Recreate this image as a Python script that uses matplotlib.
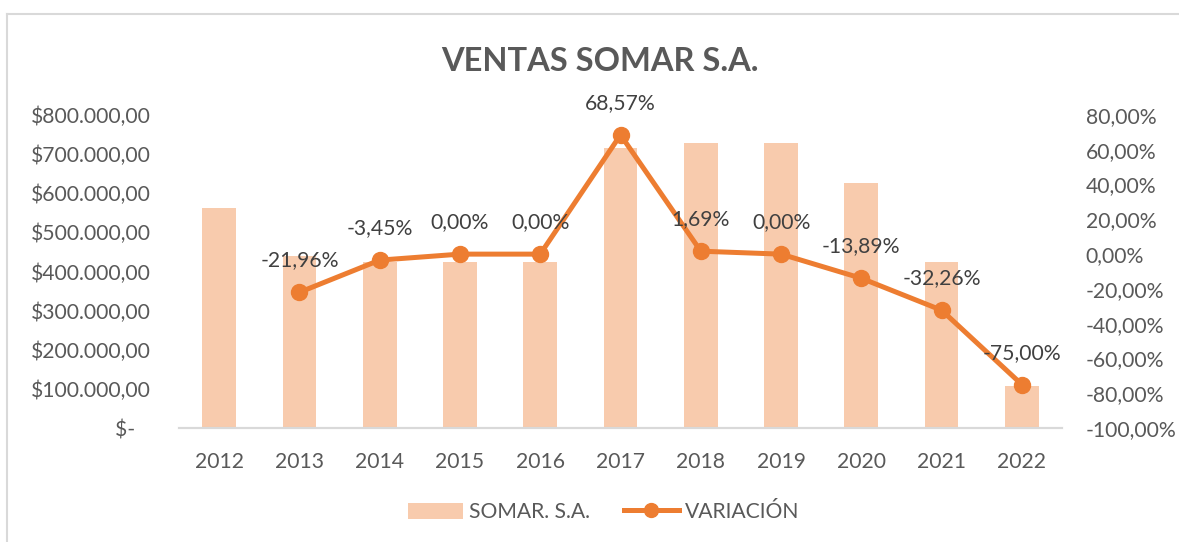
import matplotlib.pyplot as plt
import numpy as np
from matplotlib.lines import Line2D
from matplotlib.patches import Patch

plt.rcParams['font.family'] = ['Lato', 'DejaVu Sans']

years = ['2012', '2013', '2014', '2015', '2016', '2017', '2018', '2019', '2020', '2021', '2022']
ventas = [563000, 440000, 425000, 425000, 425000, 716000, 728000, 728000, 627000, 425000, 108000]
variacion = [None, -21.96, -3.45, 0.00, 0.00, 68.57, 1.69, 0.00, -13.89, -32.26, -75.00]

left_ticks = [0, 100000, 200000, 300000, 400000, 500000, 600000, 700000, 800000]
right_ticks = [-100, -80, -60, -40, -20, 0, 20, 40, 60, 80]

bar_col = '#F8CBAD'
line_col = '#ED7D31'
txt_col = '#595959'
fs = 15.2


def money(v):
    if v == 0:
        return '$-   '
    s = '{:,.2f}'.format(v)
    s = s.replace(',', 'X').replace('.', ',').replace('X', '.')
    return '$' + s


def pct(v):
    return '{:.2f}%'.format(v).replace('.', ',')


fig = plt.figure(figsize=(11.79, 5.42), dpi=100)
ax = fig.add_axes([0.1518, 0.2103, 0.749, 0.5775])
ax2 = ax.twinx()

x = np.arange(len(years))
ax.bar(x, ventas, width=0.42, color=bar_col, zorder=1)
ax.set_xlim(-0.5, len(years) - 0.5)
ax.set_ylim(0, 800000)
ax.set_yticks(left_ticks)
ax.set_yticklabels([money(v) for v in left_ticks])
ax.set_xticks(x)
ax.set_xticklabels(years)

xv = [i for i, v in enumerate(variacion) if v is not None]
yv = [v for v in variacion if v is not None]
ax2.plot(xv, yv, color=line_col, lw=3.6, marker='o', ms=11.5, zorder=3)
for i, v in zip(xv, yv):
    ax2.annotate(pct(v), (i, v), xytext=(0, 23), textcoords='offset points',
                 ha='center', va='center', fontsize=fs, color='#404040')
ax2.set_ylim(-100, 80)
ax2.set_yticks(right_ticks)
ax2.set_yticklabels([pct(v) for v in right_ticks])

for a in (ax, ax2):
    for s in ['top', 'left', 'right']:
        a.spines[s].set_visible(False)
    a.spines['bottom'].set_color('#D9D9D9')
    a.spines['bottom'].set_linewidth(1.5)
    a.tick_params(length=0, labelsize=fs, labelcolor=txt_col)
ax.tick_params(axis='y', pad=20)
ax.tick_params(axis='x', pad=17)
ax2.tick_params(axis='y', pad=17)

fig.text(0.509, 0.886, 'VENTAS SOMAR S.A.', ha='center', va='center',
         fontsize=23.5, fontweight='bold', color=txt_col)

handles = [Patch(facecolor=bar_col, edgecolor='none'),
           Line2D([0], [0], color=line_col, lw=3.6, marker='o', ms=10)]
fig.legend(handles, ['SOMAR. S.A.', 'VARIACIÓN'], loc='center', ncol=2,
           bbox_to_anchor=(0.512, 0.055), frameon=False, fontsize=fs,
           labelcolor=txt_col, handlelength=2.6, handleheight=0.8,
           columnspacing=1.6, handletextpad=0.3)

# chart border
fig.add_artist(Line2D([6.5 / 1179, 6.5 / 1179], [0, 1 - 13.5 / 542],
                      transform=fig.transFigure, color='#D9D9D9', lw=1.5))
fig.add_artist(Line2D([6.5 / 1179, 1], [1 - 13.5 / 542, 1 - 13.5 / 542],
                      transform=fig.transFigure, color='#D9D9D9', lw=1.5))

fig.savefig('out.png', dpi=100)
